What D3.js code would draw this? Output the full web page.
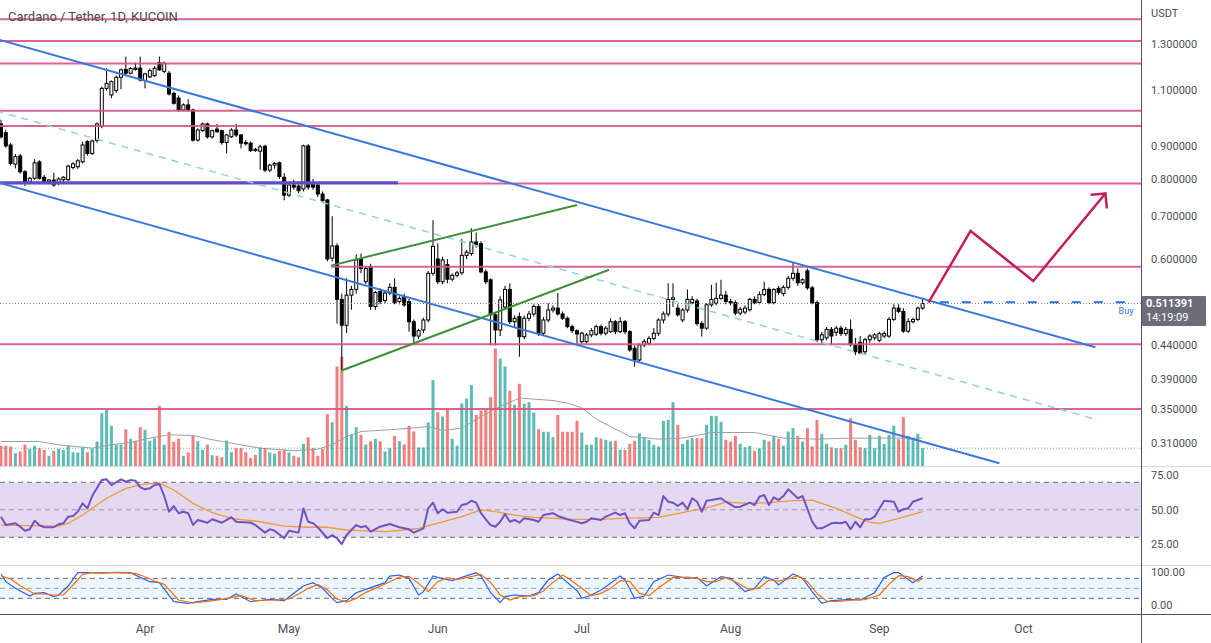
<!DOCTYPE html>
<html><head><meta charset="utf-8">
<script src="https://cdn.jsdelivr.net/npm/d3@7/dist/d3.min.js"></script>
<style>
body{margin:0;background:#fff;overflow:hidden}
svg{display:block;font-family:Roboto,"Liberation Sans","DejaVu Sans",sans-serif}
</style></head>
<body><svg id="chart" width="1211" height="643"></svg>
<script>
// ---------------- DATA ----------------
const title = "Cardano / Tether, 1D, KUCOIN";
const firstCandle = "2022-03-02";
// daily candles [open, high, low, close]
const ohlc = [
[.975,.99,.925,.931],[.945,.955,.895,.901],[.904,.91,.84,.846],[.844,.875,.831,.867],[.869,.875,.815,.821],
[.821,.826,.78,.792],[.792,.806,.785,.802],[.802,.859,.798,.848],[.851,.856,.798,.802],[.805,.812,.787,.792],
[.792,.80,.785,.797],[.797,.818,.778,.783],[.789,.805,.782,.80],[.798,.808,.79,.805],[.798,.842,.794,.838],
[.834,.85,.828,.845],[.836,.86,.83,.854],[.851,.915,.846,.904],[.915,.92,.87,.877],[.877,.922,.872,.917],
[.919,.98,.912,.975],[.966,1.115,.96,1.108],[1.108,1.191,1.1,1.128],[1.082,1.14,1.07,1.135],[1.10,1.16,1.09,1.153],
[1.153,1.19,1.105,1.184],[1.186,1.242,1.165,1.170],[1.170,1.196,1.165,1.19],[1.192,1.215,1.18,1.186],[1.192,1.242,1.135,1.142],
[1.14,1.172,1.108,1.167],[1.155,1.19,1.15,1.181],[1.16,1.20,1.155,1.191],[1.215,1.242,1.18,1.184],[1.178,1.22,1.17,1.212],
[1.170,1.18,1.08,1.086],[1.088,1.095,1.045,1.050],[1.07,1.08,1.02,1.025],[1.025,1.05,1.02,1.044],[1.044,1.066,1.02,1.025],
[1.025,1.03,.915,.920],[.920,.96,.915,.954],[.952,.98,.948,.975],[.975,.98,.925,.931],[.931,.955,.925,.952],
[.957,.975,.945,.948],[.952,.955,.905,.912],[.912,.94,.877,.937],[.931,.96,.927,.954],[.954,.975,.93,.937],
[.937,.94,.893,.910],[.912,.92,.902,.908],[.910,.915,.882,.886],[.89,.895,.882,.886],[.884,.905,.827,.898],
[.900,.905,.82,.826],[.826,.845,.82,.841],[.841,.85,.83,.846],[.848,.852,.80,.807],[.805,.817,.741,.755],
[.755,.788,.75,.783],[.783,.798,.77,.777],[.78,.79,.76,.767],[.772,.905,.765,.901],[.901,.907,.77,.777],
[.785,.80,.77,.777],[.783,.79,.75,.758],[.758,.765,.735,.740],[.742,.745,.595,.600],[.602,.700,.595,.629],
[.629,.635,.476,.519],[.519,.53,.402,.473],[.473,.56,.46,.527],[.527,.545,.50,.538],[.538,.61,.53,.598],
[.60,.612,.57,.58],[.553,.585,.548,.58],[.584,.59,.50,.506],[.506,.535,.50,.532],[.534,.54,.51,.515],
[.517,.535,.512,.531],[.531,.55,.527,.542],[.542,.56,.51,.513],[.515,.525,.51,.521],[.524,.53,.505,.509],
[.515,.52,.462,.479],[.479,.483,.443,.455],[.455,.467,.45,.464],[.465,.486,.46,.482],[.482,.575,.478,.570],
[.570,.69,.565,.628],[.60,.635,.548,.553],[.553,.605,.548,.598],[.588,.60,.55,.558],[.558,.57,.554,.566],
[.566,.575,.562,.571],[.571,.645,.567,.608],[.608,.62,.60,.615],[.612,.67,.607,.638],[.638,.66,.625,.63],
[.634,.64,.57,.573],[.573,.578,.548,.553],[.557,.56,.44,.491],[.491,.495,.44,.465],[.465,.525,.455,.518],
[.505,.545,.50,.538],[.538,.55,.475,.479],[.479,.49,.47,.485],[.488,.495,.4225,.454],[.454,.49,.45,.485],
[.485,.498,.48,.4925],[.4925,.51,.488,.506],[.506,.51,.455,.4596],[.4596,.487,.455,.482],[.482,.512,.478,.4997],
[.4997,.508,.495,.503],[.503,.531,.49,.4925],[.4925,.497,.482,.485],[.485,.488,.468,.4706],[.4706,.474,.46,.4638],
[.4638,.466,.4407,.4584],[.4459,.462,.443,.4596],[.4459,.46,.443,.4568],[.4568,.468,.453,.4638],[.458,.474,.455,.4706],
[.4706,.474,.456,.4596],[.4596,.472,.456,.468],[.4622,.485,.46,.479],[.479,.482,.458,.4622],[.4622,.487,.46,.479],
[.479,.482,.458,.4622],[.4622,.465,.43,.4328],[.4355,.44,.4076,.4175],[.4175,.443,.415,.4407],[.4407,.45,.437,.4459],
[.4433,.455,.44,.451],[.451,.468,.448,.4596],[.4596,.485,.455,.482],[.482,.497,.476,.4925],[.4925,.55,.488,.519],
[.519,.55,.505,.522],[.503,.51,.488,.491],[.482,.503,.478,.4997],[.4997,.538,.495,.519],[.513,.525,.51,.519],
[.516,.52,.472,.476],[.476,.48,.454,.468],[.468,.512,.465,.509],[.509,.547,.505,.519],[.512,.551,.508,.521],
[.521,.557,.518,.527],[.527,.535,.51,.515],[.515,.52,.508,.513],[.513,.517,.49,.494],[.494,.505,.49,.501],
[.496,.508,.492,.503],[.50,.522,.497,.519],[.519,.525,.51,.513],[.513,.534,.51,.528],[.528,.553,.525,.538],
[.538,.542,.51,.513],[.513,.54,.51,.538],[.54,.545,.528,.532],[.53,.546,.525,.542],[.542,.565,.538,.560],
[.56,.594,.555,.570],[.57,.58,.545,.551],[.551,.56,.547,.557],[.575,.58,.537,.541],[.541,.545,.51,.513],
[.513,.517,.445,.449],[.449,.462,.443,.457],[.452,.47,.448,.466],[.466,.47,.441,.455],[.461,.472,.455,.468],
[.468,.472,.455,.459],[.459,.47,.455,.466],[.466,.483,.438,.441],[.441,.452,.425,.430],[.445,.455,.426,.428],
[.43,.452,.425,.449],[.449,.458,.444,.455],[.452,.46,.448,.457],[.448,.462,.445,.459],[.455,.463,.452,.459],
[.455,.487,.452,.483],[.483,.51,.48,.503],[.503,.51,.494,.497],[.497,.503,.46,.463],[.463,.485,.46,.479],
[.479,.486,.476,.483],[.483,.506,.48,.503],[.503,.522,.50,.5114]
];
// daily volume (millions ADA)
const volume = [
20.7,20.7,20,13.3,15,22,17.7,20.7,18.3,16.7, 10.7,15.7,17.7,16.7,20.7,14.3,14,19,14.3,17.7,
25,53.3,56.7,40.7,22,22,37.3,27.7,25.7,39.3, 36.7,25.7,28.3,60.7,22,34.7,24.7,27.7,10.7,14,
31,25.3,16.7,22,11.3,10.7,9.3,26,14.3,18.3, 18.3,14.3,8.3,11.7,19,18.3,14,12.7,15.7,16.7,
14,10.7,9.3,22.7,29.3,18.3,10.7,17.7,52.3,44.3, 100,110,60.7,31.7,39.3,31.7,22,25.3,27.7,25.3,
15,18.3,30.7,25.3,22,40.7,35,19,19,44, 86.3,54.3,50,56.7,27.7,20.7,63,68,81.3,51.7,
56,56.7,69.3,118,108,100,75.7,61.7,82.7,62.7, 64.3,54,37.3,34.7,34.7,29.3,51.7,34.7,34.7,34.7,
45.7,34,21.7,21.7,29.3,28,26.7,25,25.7,16.7, 16.7,22.7,25.7,33.3,29.3,26.7,21.7,20,45.7,46.7,
64.3,41.7,22.7,26.7,28.3,28.3,28.3,41.7,50.7,50.7, 44.7,26.7,25,30.7,22.7,19.3,20.7,15.7,18.3,26.7,
25,30.7,27.7,20.7,35,38.3,30.7,25,38.3,20, 46.7,32.7,22.7,19.3,18.3,18.3,21.7,48.3,26.7,19.3,
18.3,31.7,18.3,30.7,22.7,31.7,40.7,27.3,49.3,30.7, 28.3,32.7,18.3
];
// indicator readings [candle index, value]
const volumeMA = [[0,25],[8,25],[12,21.7],[19,18.3],[23,21.7],[27,24],[31,28.3],[35,31.7],[40,31],[43,27.7],[48,23.3],[54,18.3],[61,15.7],[66,17.3],[69,21.7],[72,30],[75,35],[81,36.7],[87,39],[89,40],[92,36],[96,38.4],[100,50],[104,60],[108,68.4],[115,66],[118,63.4],[121,58.7],[124,47.4],[127,40],[131,30],[137,27.4],[142,28.4],[148,34],[157,34],[163,28.4],[170,27.4],[177,28.4],[185,28.4],[192,28.4]];
const rsi = [[0,45],[1,38.9],[3,40.2],[4,37.7],[5,34.8],[6,35.8],[7,42],[8,38.9],[9,37.3],[11,37.3],[12,39.5],[13,40.2],[14,45],[15,45.5],[16,48.6],[17,54.7],[18,51],[19,60],[21,71.6],[22,72.2],[23,68],[25,72.2],[26,70.4],[27,71.6],[28,71.2],[29,66.4],[30,64.9],[31,65.6],[32,68],[33,68.8],[34,60],[35,48.6],[36,52.8],[37,47.5],[38,48.6],[39,47.5],[40,39],[41,42.6],[43,40.6],[44,43.1],[46,40.6],[48,44.5],[49,41.3],[52,40.6],[53,38.9],[55,33.4],[56,35.8],[57,34.8],[59,29.3],[60,34.8],[62,33.4],[63,51],[64,41.3],[65,40.2],[66,37.3],[68,29.3],[69,31.7],[70,29.3],[71,25.1],[72,31.7],[74,38.9],[75,37.3],[76,38.2],[77,34.1],[79,37.7],[81,39.7],[83,37.3],[85,35.8],[86,33.4],[88,36.5],[89,51],[90,55.2],[91,47.5],[92,50.4],[93,47.9],[95,48.6],[96,53.5],[97,54.2],[98,56.6],[99,55.2],[100,47.5],[101,43.1],[102,38.9],[103,37.7],[104,41.3],[105,46.9],[106,41.3],[107,42.6],[108,40.6],[109,43.8],[111,42.6],[112,41.3],[113,46.2],[115,47.5],[116,45.5],[118,43.1],[119,42.1],[121,40.2],[122,41.3],[123,43.8],[125,42.6],[126,45],[128,47.9],[129,46.2],[130,47.5],[131,40.2],[132,36.5],[133,42.1],[135,42.6],[136,47.9],[137,46.2],[138,60],[139,55.9],[140,55.2],[141,52.8],[142,55.2],[143,50.4],[144,58.4],[145,55.9],[146,48.6],[147,56.6],[148,57.1],[150,58.4],[151,55.9],[153,51.8],[154,52.3],[156,55.2],[157,53.5],[158,59.5],[159,60.8],[160,53.5],[161,59.1],[162,57.1],[163,60],[164,64.9],[166,58.4],[167,60],[169,41.3],[170,36.5],[171,36.5],[173,40.2],[174,40.6],[175,40.2],[176,41.3],[177,35.8],[178,41.3],[179,37.3],[180,43.1],[181,43.1],[182,45],[184,56.6],[186,55.9],[187,48.6],[188,50.4],[189,51],[190,55.9],[192,58.4]];
const rsiMA = [[0,38.9],[12,38.2],[14,40.2],[17,46.2],[22,58.4],[26,65.6],[30,68.8],[33,69.3],[36,64.4],[40,54.7],[44,47.9],[48,43.8],[54,41.3],[59,38.2],[64,37.3],[68,37.3],[72,35.3],[76,34.6],[80,34.1],[84,35.3],[87,36.5],[92,41.3],[96,45],[100,49.9],[103,48.6],[107,46.2],[111,44.5],[115,43.8],[119,43.1],[125,43.1],[129,43.8],[137,44.5],[143,48.6],[148,52.3],[151,55.5],[156,54.7],[160,55.2],[165,56.6],[169,57.1],[174,51],[178,45],[181,40.9],[183,40.2],[187,43.8],[192,48.6]];
const stochK = [[0,93],[1,70],[3,50],[6,27],[7,35],[9,37],[11,25],[12,30],[14,57],[16,97],[18,97],[21,96],[24,98],[27,97],[29,83],[31,70],[33,67],[36,10],[39,5],[41,10],[44,17],[47,17],[49,33],[52,10],[56,17],[59,13],[61,35],[63,57],[65,67],[67,50],[69,20],[70,7],[72,13],[74,37],[76,47],[80,67],[81,87],[83,90],[85,80],[87,30],[88,40],[90,87],[91,83],[94,73],[96,83],[99,97],[100,87],[102,37],[104,7],[105,25],[107,30],[110,27],[112,37],[114,75],[116,93],[117,80],[120,43],[121,20],[123,30],[125,45],[127,65],[129,87],[130,75],[132,20],[134,27],[136,70],[139,90],[141,85],[143,80],[145,83],[147,57],[150,85],[152,80],[155,40],[157,50],[159,85],[161,75],[162,60],[165,93],[167,80],[169,40],[171,5],[173,13],[177,17],[179,15],[182,37],[184,83],[186,97],[187,97],[190,67],[191,77],[192,87]];
const stochD = [[0,88],[2,78],[4,58],[7,33],[9,33],[11,30],[13,30],[15,60],[17,92],[19,97],[24,97],[28,95],[30,85],[32,72],[34,62],[37,15],[40,6],[43,11],[46,17],[48,22],[50,28],[53,13],[57,15],[60,18],[62,33],[64,50],[66,62],[68,45],[70,18],[72,9],[74,20],[76,38],[78,50],[81,70],[83,84],[85,86],[87,65],[89,40],[91,70],[93,82],[95,76],[97,82],[100,92],[102,68],[104,30],[106,15],[108,25],[111,28],[113,42],[115,68],[117,90],[118,82],[121,50],[123,28],[125,35],[127,50],[129,73],[131,70],[133,35],[135,28],[137,52],[140,82],[143,84],[145,80],[147,70],[149,70],[151,82],[153,70],[156,45],[158,52],[160,75],[162,72],[164,78],[166,88],[168,70],[170,35],[172,12],[174,10],[178,15],[180,16],[183,30],[185,62],[187,88],[189,85],[191,72],[192,80]];
// horizontal levels drawn on the chart
const levelPrices = [1.42,1.3136,1.2115,1.0226,0.968,0.7869,0.5834,0.4416,0.3499];
const levelStarts = [null,null,null,null,null,null,"2022-05-09T18:00Z",null,null];
const supportLine = [["2022-03-01",0.7895],["2022-05-23T17:00Z",0.7895]];
// channel and pattern drawings [date, price]
const channelUpper = [["2022-03-01",1.323],["2022-10-16",0.437]];
const channelLower = [["2022-03-01",0.7917],["2022-09-26",0.288]];
const channelMid   = [["2022-03-01",1.0217],["2022-10-16",0.3374]];
const wedgeUpper = [["2022-05-09T18:00Z",0.586],["2022-06-30",0.7284]];
const wedgeLower = [["2022-05-11T20:00Z",0.4017],["2022-07-06T16:00Z",0.5773]];
const projection = [["2022-09-11T05:00Z",0.513],["2022-09-20",0.6637],["2022-10-03T01:00Z",0.5546],["2022-10-18T02:00Z",0.7594]];
const buyLine = [["2022-09-13T14:00Z",0.5137],["2022-10-24T05:00Z",0.5137]];
const lastPrice = 0.511391, countdown = "14:19:09";
const priceTicks = [1.3,1.1,0.9,0.8,0.7,0.6,0.44,0.39,0.35,0.31];
const rsiTicks = [75,50,25], rsiBands = [70,50,30];
const stochTicks = [100,0], stochBands = [80,50,20];
const monthLabels = ["Apr","May","Jun","Jul","Aug","Sep","Oct"];
const monthDates = ["2022-04-01","2022-05-01","2022-06-01","2022-07-01","2022-08-01","2022-09-01","2022-10-01"];

// ---------------- LAYOUT ----------------
const W = 1211, H = 643, axisX = 1141.5;
const mainTop = 0, mainBot = 466.5, rsiTop = 467, rsiBot = 565.5, stTop = 566, stBot = 614.5;
const DAY = 864e5, t0 = new Date(firstCandle).getTime();
const idxDate = i => new Date(t0 + i * DAY);
const candles = ohlc.map((d, i) => ({date: idxDate(i), o: d[0], h: d[1], l: d[2], c: d[3], v: volume[i]}));

const x = d3.scaleUtc().domain([new Date("2022-04-01"), new Date("2022-10-01")]).range([145, 145 + 183 * 4.8]);
const yP = d3.scaleLog().domain([0.31, 1.3]).range([442.8, 43.9]);
const yV = d3.scaleLinear().domain([0, 100]).range([466.5, 366.5]);
const yR = d3.scaleLinear().domain([30, 70]).range([537.3, 482.3]);
const yS = d3.scaleLinear().domain([0, 100]).range([605, 571.7]);

const svg = d3.select("#chart");
const defs = svg.append("defs");
[["cMain", mainTop, mainBot], ["cRsi", rsiTop, rsiBot], ["cSt", stTop, stBot]].forEach(([id, t, b]) => {
  defs.append("clipPath").attr("id", id).append("rect").attr("x", 0).attr("y", t).attr("width", axisX).attr("height", b - t);
});
svg.append("rect").attr("width", W).attr("height", H).attr("fill", "#fff");

const main = svg.append("g").attr("clip-path", "url(#cMain)");
const pLine = d3.line().x(d => x(new Date(d[0]))).y(d => yP(d[1]));

// volume
const upCol = "#26a69a", dnCol = "#ef5350";
main.append("g").selectAll("rect").data(candles).join("rect")
  .attr("x", d => x(d.date) - 1.5).attr("width", 3)
  .attr("y", d => yV(d.v)).attr("height", d => yV(0) - yV(d.v))
  .attr("fill", d => d.c >= d.o ? upCol : dnCol).attr("opacity", 0.75);
main.append("path").datum(volumeMA)
  .attr("d", d3.line().x(d => x(idxDate(d[0]))).y(d => yV(d[1])))
  .attr("fill", "none").attr("stroke", "#9e9e9e").attr("stroke-width", 1);
main.append("line").attr("x1", 0).attr("x2", axisX)
  .attr("y1", yV(volume[volume.length - 1])).attr("y2", yV(volume[volume.length - 1]))
  .attr("stroke", upCol).attr("stroke-width", 1).attr("stroke-dasharray", "1,2").attr("opacity", 0.8);

// candles
main.append("g").selectAll("line").data(candles).join("line")
  .attr("x1", d => x(d.date)).attr("x2", d => x(d.date))
  .attr("y1", d => yP(d.h)).attr("y2", d => yP(d.l))
  .attr("stroke", "#000").attr("stroke-width", 1);
main.append("g").selectAll("rect").data(candles).join("rect")
  .attr("x", d => x(d.date) - 1.5).attr("width", 3)
  .attr("y", d => yP(Math.max(d.o, d.c)))
  .attr("height", d => Math.max(0.8, Math.abs(yP(d.o) - yP(d.c))))
  .attr("fill", d => d.c >= d.o ? "#fff" : "#000")
  .attr("stroke", "#000").attr("stroke-width", 1);

// last price dotted line
main.append("line").attr("x1", 0).attr("x2", axisX).attr("y1", yP(lastPrice)).attr("y2", yP(lastPrice))
  .attr("stroke", "#888").attr("stroke-width", 1).attr("stroke-dasharray", "1,2");

// horizontal levels
levelPrices.forEach((p, k) => {
  const x0 = levelStarts[k] ? x(new Date(levelStarts[k])) : 0;
  main.append("line").attr("x1", x0).attr("x2", axisX).attr("y1", yP(p)).attr("y2", yP(p))
    .attr("stroke", "#d6548a").attr("stroke-width", 2).attr("opacity", 0.9);
});
main.append("path").attr("d", pLine(supportLine)).attr("stroke", "#5b4ccf").attr("stroke-width", 3).attr("fill", "none");

// channel
main.append("path").attr("d", pLine(channelMid)).attr("stroke", "#8fd3dc").attr("stroke-width", 1.5)
  .attr("stroke-dasharray", "7,6").attr("fill", "none");
[channelUpper, channelLower].forEach(l => main.append("path").attr("d", pLine(l))
  .attr("stroke", "#3a78dd").attr("stroke-width", 2).attr("fill", "none"));
[wedgeUpper, wedgeLower].forEach(l => main.append("path").attr("d", pLine(l))
  .attr("stroke", "#3d8f3a").attr("stroke-width", 2).attr("fill", "none"));

// buy line
main.append("path").attr("d", pLine(buyLine)).attr("stroke", "#2f6fe0").attr("stroke-width", 2)
  .attr("stroke-dasharray", "9,13").attr("fill", "none");
main.append("text").attr("x", 1126).attr("y", yP(buyLine[0][1]) + 12).attr("text-anchor", "middle")
  .attr("font-size", 9).attr("fill", "#2f6fe0").text("Buy");

// projection arrow
const projCol = "#c41d5b";
main.append("path").attr("d", pLine(projection)).attr("stroke", projCol).attr("stroke-width", 2.5)
  .attr("fill", "none").attr("stroke-linejoin", "miter");
{
  const n = projection.length;
  const xa = x(new Date(projection[n - 2][0])), ya = yP(projection[n - 2][1]);
  const xb = x(new Date(projection[n - 1][0])), yb = yP(projection[n - 1][1]);
  const ang = Math.atan2(yb - ya, xb - xa) + Math.PI;
  [-Math.PI / 4, Math.PI / 4].forEach(da => {
    main.append("line").attr("x1", xb).attr("y1", yb)
      .attr("x2", xb + 14 * Math.cos(ang + da)).attr("y2", yb + 14 * Math.sin(ang + da))
      .attr("stroke", projCol).attr("stroke-width", 2.5).attr("stroke-linecap", "round");
  });
}

// ---------------- RSI pane ----------------
const rsiG = svg.append("g").attr("clip-path", "url(#cRsi)");
rsiG.append("rect").attr("x", 0).attr("width", axisX).attr("y", yR(70)).attr("height", yR(30) - yR(70))
  .attr("fill", "rgba(126,87,194,0.22)");
rsiBands.forEach(b => rsiG.append("line").attr("x1", 0).attr("x2", axisX).attr("y1", yR(b)).attr("y2", yR(b))
  .attr("stroke", b === 50 ? "#9c98a8" : "#666a75").attr("stroke-width", 1).attr("stroke-dasharray", "5,4"));
const iLine = sc => d3.line().x(d => x(idxDate(d[0]))).y(d => sc(d[1]));
rsiG.append("path").datum(rsiMA).attr("d", iLine(yR)).attr("fill", "none").attr("stroke", "#ef9a3c").attr("stroke-width", 1.3);
rsiG.append("path").datum(rsi).attr("d", iLine(yR)).attr("fill", "none").attr("stroke", "#7350c4").attr("stroke-width", 2).attr("stroke-linejoin", "round");

// ---------------- Stoch RSI pane ----------------
const stG = svg.append("g").attr("clip-path", "url(#cSt)");
stG.append("rect").attr("x", 0).attr("width", axisX).attr("y", yS(80)).attr("height", yS(20) - yS(80))
  .attr("fill", "rgba(33,150,243,0.09)");
stochBands.forEach(b => stG.append("line").attr("x1", 0).attr("x2", axisX).attr("y1", yS(b)).attr("y2", yS(b))
  .attr("stroke", b === 50 ? "#9aa0ab" : "#666a75").attr("stroke-width", 1).attr("stroke-dasharray", "5,4"));
stG.append("path").datum(stochK).attr("d", iLine(yS)).attr("fill", "none").attr("stroke", "#2962ff").attr("stroke-width", 1.2);
stG.append("path").datum(stochD).attr("d", iLine(yS)).attr("fill", "none").attr("stroke", "#ff6d00").attr("stroke-width", 1.2);

// ---------------- frame & axes ----------------
[mainBot, rsiBot].forEach(yy => svg.append("line").attr("x1", 0).attr("x2", W).attr("y1", yy).attr("y2", yy)
  .attr("stroke", "#d6d8de").attr("stroke-width", 1));
svg.append("line").attr("x1", 0).attr("x2", W).attr("y1", stBot).attr("y2", stBot).attr("stroke", "#50535e").attr("stroke-width", 1);
svg.append("line").attr("x1", axisX).attr("x2", axisX).attr("y1", 0).attr("y2", H).attr("stroke", "#50535e").attr("stroke-width", 1);

const axisCol = "#4c4f59";
const lab = (yy, t) => svg.append("text").attr("x", 1151).attr("y", yy).attr("dy", "0.35em")
  .attr("font-size", 11).attr("fill", axisCol).text(t);
lab(13, "USDT");
priceTicks.forEach(p => lab(yP(p), p.toFixed(6)));
rsiTicks.forEach(v => lab(yR(v), v.toFixed(2)));
stochTicks.forEach(v => lab(yS(v), v.toFixed(2)));

// last price tag
const lpY = yP(lastPrice);
svg.append("rect").attr("x", axisX + 0.5).attr("y", lpY - 7.5).attr("width", 64).attr("height", 30).attr("rx", 1)
  .attr("fill", "#6b6e78");
svg.append("text").attr("x", 1146).attr("y", lpY).attr("dy", "0.35em").attr("font-size", 11).attr("font-weight", "bold")
  .attr("fill", "#fff").text(lastPrice.toFixed(6));
svg.append("text").attr("x", 1146).attr("y", lpY + 14).attr("dy", "0.35em").attr("font-size", 11)
  .attr("fill", "#fff").text(countdown);

// time axis
monthLabels.forEach((m, k) => svg.append("text").attr("x", x(new Date(monthDates[k]))).attr("y", 629)
  .attr("dy", "0.35em").attr("text-anchor", "middle").attr("font-size", 12).attr("fill", axisCol).text(m));

// title
svg.append("text").attr("x", 8).attr("y", 16).attr("dy", "0.35em").attr("font-size", 13)
  .attr("fill", "#4a4a4a").text(title);
</script></body></html>
